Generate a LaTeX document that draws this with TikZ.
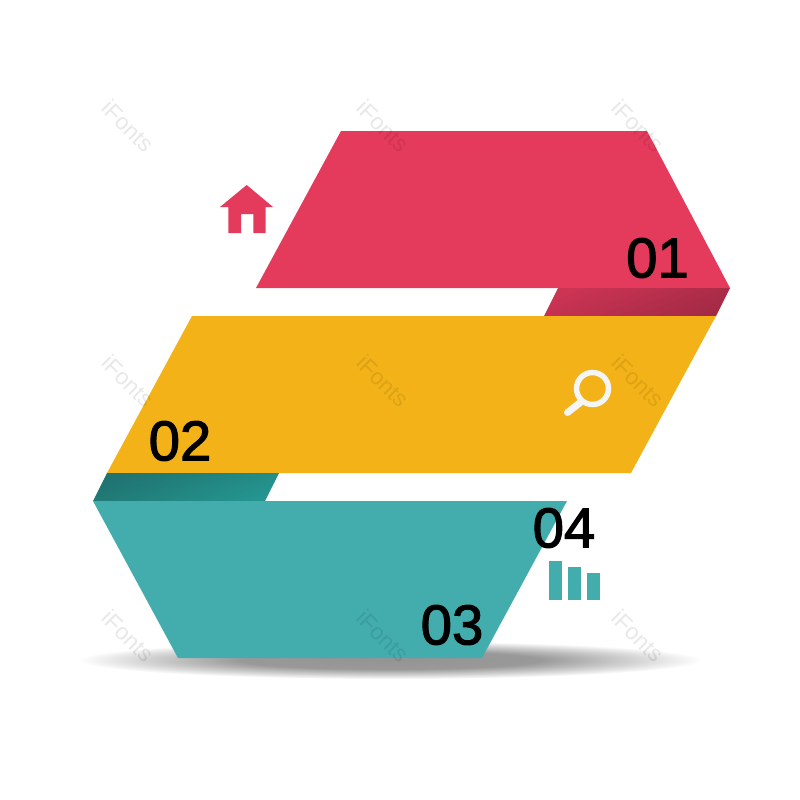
\documentclass[tikz,border=0pt]{standalone}
\usepackage{fontspec}
\setmainfont{Liberation Sans}
\newfontfamily\numfont[FakeBold=2]{Liberation Sans}
\definecolor{bandred}{HTML}{E43A5B}
\definecolor{bandyellow}{HTML}{F3B318}
\definecolor{bandteal}{HTML}{43ADAD}
\definecolor{foldredlight}{HTML}{CC3454}
\definecolor{foldreddark}{HTML}{A32A45}
\definecolor{foldteallight}{HTML}{25958F}
\definecolor{foldtealdark}{HTML}{1F7370}
\pgfdeclareradialshading{floorshadow}{\pgfpointorigin}{color(0bp)=(black!42); color(12bp)=(black!40); color(20bp)=(black!16); color(25bp)=(white); color(50bp)=(white)}
\tikzset{
    numlabel/.style={inner sep=0pt, text=black, font=\numfont\fontsize{16}{18}\selectfont},
    stamplabel/.style={inner sep=0pt, rotate=-45, text=black, opacity=0.09, font=\fontsize{6.5}{8}\selectfont},
}

\begin{document}
\begin{tikzpicture}[x=0.01cm, y=-0.01cm]
                \useasboundingbox (0, 0) rectangle (800, 800);
                % floor shadow
                \shade[shading=floorshadow] (390, 660) ellipse (312 and 19);
                % bands and folds
                \fill[bandred] (341, 131) -- (647, 131) -- (730, 288) -- (256, 288) -- cycle;
                \shade[left color=foldredlight, right color=foldreddark, shading angle=22] (558, 288) -- (730, 288) -- (716, 316) -- (544, 316) -- cycle;
                \fill[bandyellow] (192, 316) -- (716, 316) -- (631, 473) -- (107, 473) -- cycle;
                \shade[left color=foldtealdark, right color=foldteallight, shading angle=22] (107, 473) -- (279, 473) -- (265, 501) -- (93, 501) -- cycle;
                \fill[bandteal] (93, 501) -- (567, 501) -- (482, 658) -- (178, 658) -- cycle;
                % house
                \fill[bandred] (246.7, 185) -- (273, 207) -- (265.7, 207) -- (265.7, 233) -- (253.3, 233) -- (253.3, 214) -- (241, 214) -- (241, 233) -- (228.3, 233) -- (228.3, 207) -- (220, 207) -- cycle;
                % magnifier
                \draw[white!96!black, line width=0.055cm] (592.5, 388.5) circle (16);
                \draw[white!96!black, line width=0.07cm, line cap=round] (581.5, 401.5) -- (567.5, 412.5);
                % bars
                \fill[bandteal] (548.7, 561) rectangle (561.7, 599.5);
                \fill[bandteal] (568, 567) rectangle (581, 599.5);
                \fill[bandteal] (587.3, 572.5) rectangle (600.3, 599.5);
                % numbers
                \node[numlabel] (num01) at (657.5, 258) {01};
                \node[numlabel] (num02) at (180, 441) {02};
                \node[numlabel] (num03) at (452, 625) {03};
                \node[numlabel] (num04) at (564, 528) {04};
                % stamps
                \foreach \stampx in {128, 383, 638} {
                    \foreach \stampy in {126, 381, 636} {
                        \node[stamplabel] (stamp\stampx\stampy) at (\stampx, \stampy) {iFonts};
                    }
                }
            \end{tikzpicture}
\end{document}
